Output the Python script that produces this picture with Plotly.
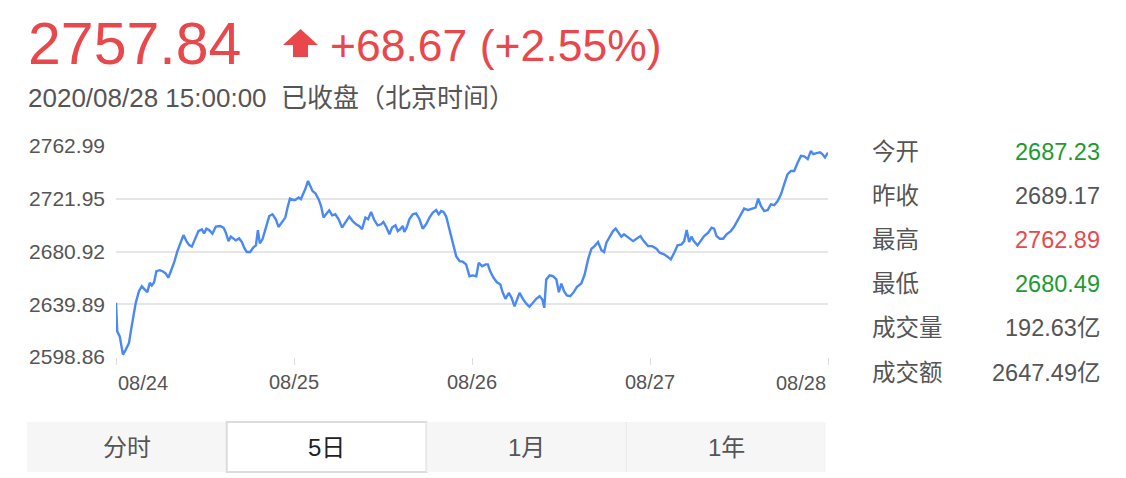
import plotly.graph_objects as go

# 上证指数 5日走势 (2020/08/24 - 2020/08/28)
day_labels = ["08/24", "08/25", "08/26", "08/27", "08/28"]
y_ticks = [2598.86, 2639.89, 2680.92, 2721.95, 2762.99]

# position in trading days since 08/24 open, index value
day_pos = [
    0.000, 0.007, 0.021, 0.039, 0.055, 0.073, 0.088, 0.111, 0.129, 0.145,
    0.158, 0.176, 0.190, 0.201, 0.214, 0.227, 0.246, 0.264, 0.280, 0.294,
    0.308, 0.326, 0.345, 0.364, 0.379, 0.396, 0.411, 0.426, 0.444, 0.463,
    0.482, 0.495, 0.508, 0.523, 0.542, 0.561, 0.585, 0.604, 0.617, 0.632,
    0.645, 0.658, 0.673, 0.692, 0.707, 0.720, 0.735, 0.754, 0.771, 0.786,
    0.797, 0.808, 0.823, 0.842, 0.861, 0.879, 0.898, 0.913, 0.932, 0.951,
    0.964, 0.977, 0.996, 1.007, 1.026, 1.039, 1.048, 1.063, 1.079, 1.090,
    1.104, 1.120, 1.138, 1.152, 1.166, 1.180, 1.198, 1.214, 1.232, 1.251,
    1.270, 1.288, 1.311, 1.329, 1.349, 1.367, 1.382, 1.401, 1.416, 1.433,
    1.451, 1.470, 1.489, 1.502, 1.517, 1.536, 1.551, 1.570, 1.583, 1.596,
    1.611, 1.620, 1.633, 1.648, 1.667, 1.686, 1.705, 1.723, 1.742, 1.761,
    1.780, 1.799, 1.813, 1.827, 1.840, 1.855, 1.873, 1.892, 1.911, 1.930,
    1.948, 1.967, 1.986, 2.004, 2.024, 2.038, 2.057, 2.076, 2.089, 2.102,
    2.121, 2.140, 2.159, 2.173, 2.188, 2.207, 2.222, 2.239, 2.254, 2.267,
    2.286, 2.305, 2.323, 2.342, 2.361, 2.380, 2.395, 2.406, 2.417, 2.436,
    2.455, 2.474, 2.488, 2.502, 2.517, 2.533, 2.552, 2.571, 2.590, 2.614,
    2.633, 2.652, 2.671, 2.689, 2.708, 2.727, 2.742, 2.755, 2.774, 2.792,
    2.807, 2.822, 2.839, 2.854, 2.877, 2.905, 2.924, 2.946, 2.965, 2.989,
    3.012, 3.036, 3.055, 3.079, 3.098, 3.117, 3.136, 3.155, 3.177, 3.192,
    3.206, 3.220, 3.233, 3.246, 3.267, 3.286, 3.304, 3.327, 3.346, 3.360,
    3.374, 3.392, 3.411, 3.430, 3.454, 3.473, 3.495, 3.514, 3.529, 3.551,
    3.574, 3.593, 3.608, 3.623, 3.642, 3.661, 3.679, 3.698, 3.717, 3.736,
    3.754, 3.773, 3.792, 3.810, 3.830, 3.848, 3.867, 3.886, 3.904, 3.917,
    3.936, 3.955, 3.968, 3.983, 4.000,
]
index_value = [
    2641.0, 2618.8, 2614.9, 2600.7, 2604.6, 2609.8, 2622.7, 2641.0, 2650.0, 2653.9,
    2651.9, 2649.3, 2656.6, 2654.5, 2657.0, 2665.6, 2666.4, 2665.4, 2663.8, 2660.5,
    2665.6, 2672.2, 2681.2, 2687.8, 2693.7, 2689.0, 2685.9, 2684.7, 2690.4, 2696.8,
    2698.2, 2695.0, 2698.7, 2697.6, 2694.8, 2700.3, 2700.7, 2699.5, 2695.6, 2689.0,
    2692.5, 2691.1, 2689.6, 2691.1, 2688.3, 2683.9, 2680.5, 2680.5, 2683.9, 2685.7,
    2697.6, 2687.2, 2690.4, 2699.5, 2708.5, 2709.9, 2706.0, 2700.0, 2703.4, 2707.3,
    2715.1, 2722.1, 2721.0, 2721.0, 2722.9, 2721.6, 2724.7, 2729.3, 2735.8, 2731.9,
    2728.0, 2726.2, 2721.6, 2716.3, 2707.3, 2709.9, 2713.0, 2709.1, 2709.9, 2706.0,
    2699.5, 2703.4, 2708.1, 2704.6, 2702.1, 2700.7, 2698.2, 2707.3, 2706.0, 2711.7,
    2705.4, 2701.3, 2702.1, 2703.9, 2700.3, 2694.3, 2699.5, 2701.3, 2696.8, 2698.2,
    2700.7, 2696.1, 2699.5, 2706.0, 2709.9, 2710.6, 2706.0, 2698.7, 2702.1, 2707.3,
    2711.2, 2713.2, 2709.9, 2712.4, 2711.7, 2708.1, 2698.2, 2687.8, 2677.3, 2673.4,
    2673.0, 2670.9, 2661.7, 2662.3, 2661.7, 2672.2, 2669.5, 2670.9, 2670.9, 2665.6,
    2660.5, 2657.0, 2655.3, 2648.8, 2644.1, 2648.8, 2644.9, 2638.3, 2644.9, 2648.8,
    2644.1, 2640.4, 2637.9, 2641.0, 2644.1, 2646.1, 2643.6, 2637.1, 2659.2, 2662.3,
    2661.7, 2659.2, 2649.3, 2656.0, 2650.0, 2646.7, 2646.1, 2649.3, 2653.5, 2656.0,
    2663.0, 2674.8, 2683.1, 2685.1, 2688.3, 2682.0, 2680.5, 2687.8, 2692.9, 2696.8,
    2698.7, 2695.6, 2692.5, 2694.3, 2691.7, 2689.0, 2690.9, 2692.9, 2689.0, 2685.1,
    2685.1, 2683.1, 2680.0, 2678.7, 2676.9, 2674.8, 2680.0, 2685.7, 2686.5, 2689.0,
    2697.6, 2688.3, 2692.5, 2689.0, 2685.7, 2689.0, 2692.9, 2695.6, 2699.5, 2698.7,
    2692.9, 2690.9, 2690.9, 2694.3, 2696.8, 2700.3, 2705.4, 2709.9, 2714.3, 2713.2,
    2714.3, 2715.1, 2722.1, 2716.3, 2712.4, 2713.2, 2717.6, 2716.9, 2720.2, 2725.4,
    2733.3, 2741.1, 2743.6, 2743.6, 2750.2, 2755.3, 2754.9, 2752.8, 2759.2, 2756.7,
    2757.4, 2758.0, 2756.7, 2754.1, 2757.84,
]

stat_labels = ["今开", "昨收", "最高", "最低", "成交量", "成交额"]
stat_values = ["2687.23", "2689.17", "2762.89", "2680.49", "192.63亿", "2647.49亿"]
stat_colors = ["#1f9a2d", "#555555", "#e8474c", "#1f9a2d", "#555555", "#555555"]

tab_labels = ["分时", "5日", "1月", "1年"]

red = "#e8474c"
grey = "#555555"
font_family = "Liberation Sans, Arial, Noto Sans CJK SC, sans-serif"

W, H = 1126, 478
L, T, PW, PH = 116, 146, 712, 211


def px(x):
    return (x - L) / PW


def py(y):
    return (T + PH - y) / PH


def label(x, y, text, size, color, anchor="left"):
    return dict(x=px(x), y=py(y), xref="paper", yref="paper", text=text,
                showarrow=False, xanchor=anchor, yanchor="middle",
                font=dict(size=size, color=color))


fig = go.Figure()
fig.add_trace(go.Scatter(
    x=day_pos, y=index_value, mode="lines",
    line=dict(color="#4a89f3", width=2.4),
    hoverinfo="skip", showlegend=False,
))

annotations = []
shapes = []

# header
annotations.append(label(26, 44, "2757.84", 59, red))
annotations.append(label(328, 45, "+68.67 (+2.55%)", 44.5, red))
annotations.append(label(26, 98, "2020/08/28 15:00:00  已收盘（北京时间）", 26, grey))

# up arrow icon
pts = [(300.5, 29), (318, 45), (308, 45), (308, 57), (293, 57), (293, 45), (283, 45)]
path = "M " + " L ".join(f"{px(a):.5f},{py(b):.5f}" for a, b in pts) + " Z"
shapes.append(dict(type="path", xref="paper", yref="paper", path=path,
                   fillcolor=red, line=dict(width=0)))

# first / last day labels sit inside the plot edges
annotations.append(dict(x=0, y=py(383), xref="x", yref="paper", text=day_labels[0],
                        showarrow=False, xanchor="left", yanchor="middle",
                        font=dict(size=20, color=grey)))
annotations.append(dict(x=len(day_labels) - 1, y=py(383), xref="x", yref="paper",
                        text=day_labels[-1], showarrow=False, xanchor="right",
                        yanchor="middle", font=dict(size=20, color=grey)))

# stats panel
for i, (lab, val, col) in enumerate(zip(stat_labels, stat_values, stat_colors)):
    yc = 152 + i * 44.1
    annotations.append(label(870, yc, lab, 23.5, grey))
    annotations.append(label(1102, yc, val, 23.5, col, anchor="right"))

# tabs
tab_w = 199.75
for i, lab in enumerate(tab_labels):
    x0 = 27 + i * tab_w
    x1 = x0 + tab_w
    selected = lab == "5日"
    shapes.append(dict(type="rect", xref="paper", yref="paper",
                       x0=px(x0), x1=px(x1), y0=py(472), y1=py(422),
                       fillcolor="#ffffff" if selected else "#f6f6f6",
                       line=dict(color="#dcdcdc" if selected else "#f6f6f6",
                                 width=2 if selected else 0)))
    if i > 1:
        shapes.append(dict(type="line", xref="paper", yref="paper",
                           x0=px(x0), x1=px(x0), y0=py(472), y1=py(422),
                           line=dict(color="#e8e8e8", width=1)))
    annotations.append(label((x0 + x1) / 2, 447, lab, 24,
                             "#222222" if selected else grey, anchor="center"))

fig.update_layout(
    width=W, height=H,
    margin=dict(l=L, r=W - L - PW, t=T, b=H - T - PH, pad=0),
    paper_bgcolor="white", plot_bgcolor="white",
    font=dict(family=font_family, color=grey),
    annotations=annotations, shapes=shapes,
    showlegend=False,
)
fig.update_xaxes(
    range=[0, 4], tickvals=list(range(len(day_labels))),
    ticktext=[""] + day_labels[1:-1] + [""],
    showgrid=False, zeroline=False, showline=False,
    ticks="outside", ticklen=7, tickwidth=1, tickcolor="#dddddd",
    tickfont=dict(size=20, color=grey), ticklabelstandoff=0,
)
fig.update_yaxes(
    range=[y_ticks[0], y_ticks[-1]], tickvals=y_ticks,
    ticktext=[f"{v:.2f}" for v in y_ticks],
    showgrid=True, gridcolor="#e6e6e6", gridwidth=1.5, zeroline=False, showline=False,
    ticks="", tickfont=dict(size=21, color=grey), ticklabelstandoff=10,
)

fig.write_html("out.html", config={"displayModeBar": False},
               post_script="document.body.style.margin='0';")
